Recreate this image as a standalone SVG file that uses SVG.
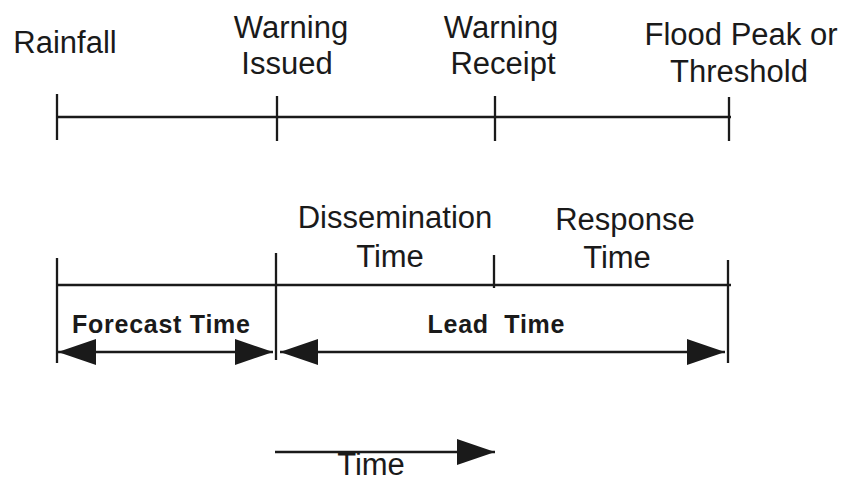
<svg xmlns="http://www.w3.org/2000/svg" width="845" height="493" viewBox="0 0 845 493">
  <style>
    .lbl { font-family: "Liberation Sans", Arial, sans-serif; font-size: 31px; fill: #1a1a1a; text-anchor: middle; }
    .bold { font-family: "Liberation Sans", Arial, sans-serif; font-size: 25px; font-weight: bold; fill: #1a1a1a; text-anchor: middle; }
    .ln { stroke: #1a1a1a; stroke-width: 2.3; fill: none; }
  </style>
  <defs>
    <marker id="head" markerUnits="userSpaceOnUse" markerWidth="40" markerHeight="28" refX="38" refY="13" orient="auto-start-reverse">
      <path d="M0,0 L38,13 L0,26 Z" fill="#1a1a1a"/>
    </marker>
  </defs>
  <rect width="845" height="493" fill="#ffffff"/>

  <!-- event labels along the upper timeline -->
  <g id="rainfall"><text class="lbl" x="65" y="53">Rainfall</text></g>
  <g id="warning-issued">
    <text class="lbl" x="291" y="38">Warning</text>
    <text class="lbl" x="287" y="74">Issued</text>
  </g>
  <g id="warning-receipt">
    <text class="lbl" x="501" y="38">Warning</text>
    <text class="lbl" x="503" y="74">Receipt</text>
  </g>
  <g id="flood-peak">
    <text class="lbl" x="741" y="45">Flood Peak or</text>
    <text class="lbl" x="739" y="82">Threshold</text>
  </g>

  <!-- interval labels along the lower timeline -->
  <g id="dissemination-time">
    <text class="lbl" x="395" y="228">Dissemination</text>
    <text class="lbl" x="390" y="267">Time</text>
  </g>
  <g id="response-time">
    <text class="lbl" x="625" y="230">Response</text>
    <text class="lbl" x="617" y="268">Time</text>
  </g>
  <g id="forecast-time"><text class="bold" x="161" y="333" textLength="178">Forecast Time</text></g>
  <g id="lead-time"><text class="bold" x="496" y="333" textLength="137" xml:space="preserve">Lead  Time</text></g>
  <g id="time-label"><text class="lbl" x="371" y="475">Time</text></g>

  <g id="connectors">
    <!-- upper timeline -->
    <line class="ln" x1="57" y1="117" x2="731" y2="117"/>
    <line class="ln" x1="57" y1="94" x2="57" y2="140"/>
    <line class="ln" x1="277" y1="96" x2="277" y2="141"/>
    <line class="ln" x1="495" y1="96" x2="495" y2="141"/>
    <line class="ln" x1="729" y1="97" x2="729" y2="141"/>

    <!-- lower timeline -->
    <line class="ln" x1="57" y1="285" x2="731" y2="285"/>
    <line class="ln" x1="57" y1="258" x2="57" y2="363"/>
    <line class="ln" x1="276" y1="253" x2="276" y2="360"/>
    <line class="ln" x1="494" y1="255" x2="494" y2="288"/>
    <line class="ln" x1="728" y1="260" x2="728" y2="363"/>

    <!-- span arrows -->
    <line class="ln" x1="58" y1="352" x2="273" y2="352" marker-start="url(#head)" marker-end="url(#head)"/>
    <line class="ln" x1="280" y1="352" x2="725" y2="352" marker-start="url(#head)" marker-end="url(#head)"/>

    <!-- direction of time -->
    <line class="ln" x1="275" y1="452" x2="495" y2="452" marker-end="url(#head)"/>
  </g>
</svg>
